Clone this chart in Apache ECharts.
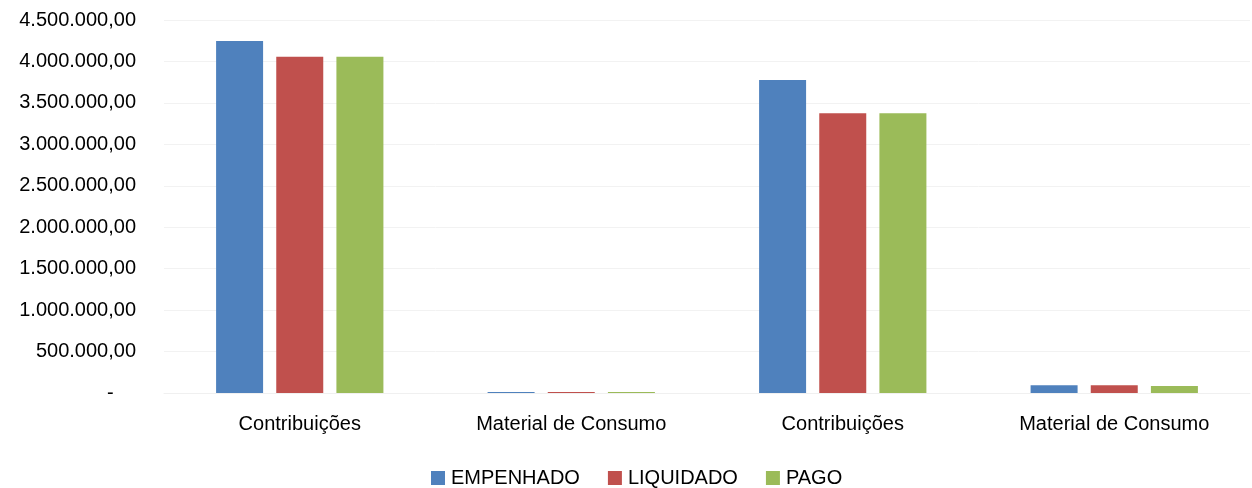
<!DOCTYPE html>
<html>
<head>
<meta charset="utf-8">
<script src="https://cdn.jsdelivr.net/npm/echarts@6/dist/echarts.min.js"></script>
<style>html,body{margin:0;padding:0;background:#fff}#c{width:1252px;height:488px}</style>
</head>
<body>
<div id="c"></div>
<script>
const categories = ['Contribuições', 'Material de Consumo', 'Contribuições', 'Material de Consumo'];
const seriesNames = ['EMPENHADO', 'LIQUIDADO', 'PAGO'];
const empenhado = [4247000, 12000, 3776000, 93000];
const liquidado = [4057000, 11000, 3374000, 92000];
const pago = [4057000, 11000, 3374000, 85000];
const colors = ['#4F81BD', '#C0504D', '#9BBB59'];

function fmt(v) {
  if (v === 0) return '-    ';
  const s = Math.round(v).toString().replace(/\B(?=(\d{3})+(?!\d))/g, '.');
  return s + ',00';
}

const font = 'Liberation Sans';
const chart = echarts.init(document.getElementById('c'));
const data = [empenhado, liquidado, pago];
chart.setOption({
  animation: false,
  textStyle: { fontFamily: font },
  grid: { left: 164, right: 2, top: 20, bottom: 95, containLabel: false },
  legend: {
    data: seriesNames,
    top: 463,
    left: 426,
    itemWidth: 14,
    itemHeight: 14,
    itemGap: 28,
    icon: 'rect',
    textStyle: { fontFamily: font, fontSize: 20, color: '#000', padding: [0, 0, 0, 1] }
  },
  xAxis: {
    type: 'category',
    data: categories,
    axisLine: { lineStyle: { color: '#f0f0f0' } },
    axisTick: { show: false },
    axisLabel: { fontFamily: font, fontSize: 20, color: '#000', margin: 21 }
  },
  yAxis: {
    type: 'value',
    min: 0,
    max: 4500000,
    interval: 500000,
    axisLine: { show: false },
    axisTick: { show: false },
    splitLine: { lineStyle: { color: '#f2f2f2' } },
    axisLabel: { fontFamily: font, fontSize: 20, color: '#000', margin: 28, formatter: fmt }
  },
  series: seriesNames.map((n, i) => ({
    name: n,
    type: 'bar',
    data: data[i],
    barWidth: 47,
    barGap: '28%',
    itemStyle: { color: colors[i] }
  }))
});
</script>
</body>
</html>
